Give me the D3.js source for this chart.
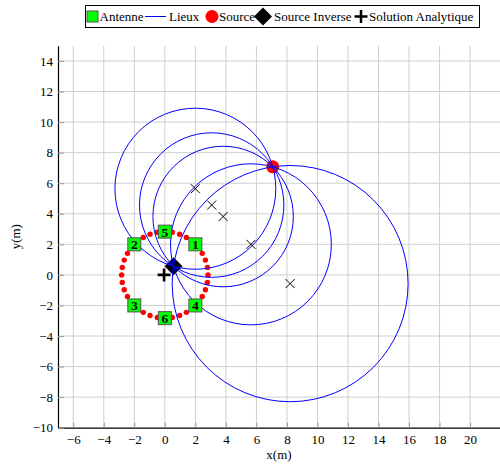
<!DOCTYPE html>
<html><head><meta charset="utf-8">
<script src="https://cdn.jsdelivr.net/npm/d3@7"></script>
<style>
html,body{margin:0;padding:0;background:#fff;}
svg{display:block;}
svg text{font-family:"Liberation Serif","Times New Roman",Times,"DejaVu Serif",serif !important;}
</style></head>
<body>
<svg id="c" width="500" height="466"></svg>
<script>
// ---- data ----
const antennaX = [2, -2, -2, 2, 0, 0];
const antennaY = [2, 2, -2, -2, 2.83, -2.83];
const antennaLabels = ["1", "2", "3", "4", "5", "6"];

const dotX = [2.83, 2.79, 2.66, 2.45, 2.17, 1.82, 1.41, 0.97, 0.49, 0, -0.49, -0.97, -1.41, -1.82, -2.17, -2.45, -2.66, -2.79,
              -2.83, -2.79, -2.66, -2.45, -2.17, -1.82, -1.41, -0.97, -0.49, 0, 0.49, 0.97, 1.41, 1.82, 2.17, 2.45, 2.66, 2.79];
const dotY = [0, 0.49, 0.97, 1.41, 1.82, 2.17, 2.45, 2.66, 2.79, 2.83, 2.79, 2.66, 2.45, 2.17, 1.82, 1.41, 0.97, 0.49,
              0, -0.49, -0.97, -1.41, -1.82, -2.17, -2.45, -2.66, -2.79, -2.83, -2.79, -2.66, -2.45, -2.17, -1.82, -1.41, -0.97, -0.49];

const sourceX = [7.07], sourceY = [7.07];
const inverseX = [0.57], inverseY = [0.57];
const solutionX = [-0.05], solutionY = [0];

const lieuCX = [5.64, 2.0, 3.82, 8.21, 3.07];
const lieuCY = [2.0, 5.64, 3.82, -0.57, 4.57];
const lieuR  = [5.27, 5.27, 4.60, 7.73, 4.73];

const xTicks = [-6, -4, -2, 0, 2, 4, 6, 8, 10, 12, 14, 16, 18, 20];
const yTicks = [-10, -8, -6, -4, -2, 0, 2, 4, 6, 8, 10, 12, 14];

const legendLabels = ["Antenne", "Lieux", "Source", "Source Inverse", "Solution Analytique"];

// ---- chart ----
const FONT = "'Liberation Serif','Times New Roman',Times,'DejaVu Serif',serif";
const svg = d3.select("#c");
const x = d3.scaleLinear().domain([-7, 22]).range([58, 500.6]);
const y = d3.scaleLinear().domain([-10, 15]).range([427.7, 45.7]);
const fs = 13;

// grid
const grid = svg.append("g").attr("stroke", "#cfcfcf").attr("stroke-width", 1);
grid.selectAll("line.v").data(xTicks).join("line").attr("class", "v")
  .attr("x1", d => x(d)).attr("x2", d => x(d)).attr("y1", y(15)).attr("y2", y(-10));
grid.selectAll("line.h").data(yTicks.filter(d => d > -10)).join("line").attr("class", "h")
  .attr("x1", x(-7)).attr("x2", 500).attr("y1", d => y(d)).attr("y2", d => y(d));

// axes
const fmt = d3.format("d");
const gx = svg.append("g").attr("transform", `translate(0,${y(-10)})`)
  .call(d3.axisBottom(x).tickValues(xTicks).tickFormat(fmt).tickSizeInner(-5).tickSizeOuter(0).tickPadding(7));
const gy = svg.append("g").attr("transform", `translate(${x(-7)},0)`)
  .call(d3.axisLeft(y).tickValues(yTicks).tickFormat(fmt).tickSizeInner(-6).tickSizeOuter(0).tickPadding(5));
[gx, gy].forEach(g => {
  g.attr("font-family", FONT).attr("font-size", fs);
  g.selectAll(".tick line").attr("stroke", "#9a9a9a");
  g.selectAll(".tick text").attr("font-size", fs).attr("font-family", FONT).attr("fill", "#000");
  g.select(".domain").attr("stroke", "#000").attr("stroke-width", 1.2);
});
gx.select(".domain").attr("d", `M${x(-7)},0.5H500`);

svg.append("text").attr("x", (x(-7) + 500) / 2).attr("y", 459).attr("text-anchor", "middle")
  .attr("font-family", FONT).attr("font-size", fs).text("x(m)");
svg.append("text").attr("transform", `translate(20,${(y(15) + y(-10)) / 2}) rotate(-90)`)
  .attr("text-anchor", "middle").attr("font-family", FONT).attr("font-size", fs).text("y(m)");

// red dots on circle
svg.append("g").selectAll("circle").data(dotX).join("circle")
  .attr("cx", d => x(d)).attr("cy", (d, i) => y(dotY[i])).attr("r", 2.7).attr("fill", "#ff0000");

// source
svg.append("g").selectAll("circle").data(sourceX).join("circle")
  .attr("cx", d => x(d)).attr("cy", (d, i) => y(sourceY[i])).attr("r", 6.5).attr("fill", "#ff0000");

// solution analytique (+)
const plus = (cx, cy, h) => `M${cx - h},${cy}H${cx + h}M${cx},${cy - h}V${cy + h}`;
svg.append("g").selectAll("path").data(solutionX).join("path")
  .attr("d", (d, i) => plus(x(d), y(solutionY[i]), 6.5)).attr("stroke", "#000").attr("stroke-width", 2.6).attr("fill", "none");

// source inverse (diamond)
const diamond = (cx, cy, h) => `M${cx},${cy - h}L${cx + h},${cy}L${cx},${cy + h}L${cx - h},${cy}Z`;
svg.append("g").selectAll("path").data(inverseX).join("path")
  .attr("d", (d, i) => diamond(x(d), y(inverseY[i]), 9)).attr("fill", "#000");

// lieux (circles)
svg.append("g").selectAll("ellipse").data(lieuCX).join("ellipse")
  .attr("cx", d => x(d)).attr("cy", (d, i) => y(lieuCY[i]))
  .attr("rx", (d, i) => x(d + lieuR[i]) - x(d)).attr("ry", (d, i) => y(lieuCY[i] - lieuR[i]) - y(lieuCY[i]))
  .attr("fill", "none").attr("stroke", "#0000ff").attr("stroke-width", 1);

// centres (x markers)
const cross = (cx, cy, h) => `M${cx - h},${cy - h}L${cx + h},${cy + h}M${cx - h},${cy + h}L${cx + h},${cy - h}`;
svg.append("g").selectAll("path").data(lieuCX).join("path")
  .attr("d", (d, i) => cross(x(d), y(lieuCY[i]), 4.5)).attr("stroke", "#000").attr("stroke-width", 1).attr("fill", "none");

// antennas
const ant = svg.append("g").selectAll("g").data(antennaX).join("g")
  .attr("transform", (d, i) => `translate(${x(d)},${y(antennaY[i])})`);
ant.append("rect").attr("x", -6.5).attr("y", -6.5).attr("width", 13).attr("height", 13)
  .attr("fill", "#00ff00").attr("stroke", "#555").attr("stroke-width", 1);
ant.append("text").attr("y", 5).attr("text-anchor", "middle").attr("font-family", FONT)
  .attr("font-size", 13.5).attr("font-weight", "bold")
  .text((d, i) => antennaLabels[i]);

// legend
const lg = svg.append("g");
lg.append("rect").attr("x", 85.5).attr("y", 5.5).attr("width", 394).attr("height", 22)
  .attr("fill", "#fff").attr("stroke", "#000").attr("stroke-width", 1);
const ly = 16.5;
lg.append("rect").attr("x", 87).attr("y", ly - 5.5).attr("width", 11).attr("height", 11)
  .attr("fill", "#00ff00").attr("stroke", "#555");
lg.append("line").attr("x1", 145).attr("x2", 166).attr("y1", ly).attr("y2", ly).attr("stroke", "#0000ff").attr("stroke-width", 1);
lg.append("circle").attr("cx", 212).attr("cy", ly).attr("r", 6.5).attr("fill", "#ff0000");
lg.append("path").attr("d", diamond(263, ly, 9)).attr("fill", "#000");
lg.append("path").attr("d", plus(361, ly, 6.5)).attr("stroke", "#000").attr("stroke-width", 2.5);
const legendTextX = [99.5, 169, 219, 274, 369];
lg.selectAll("text").data(legendLabels).join("text")
  .attr("x", (d, i) => legendTextX[i]).attr("y", ly + 4.5).attr("font-family", FONT).attr("font-size", fs).text(d => d);
</script>
</body></html>
